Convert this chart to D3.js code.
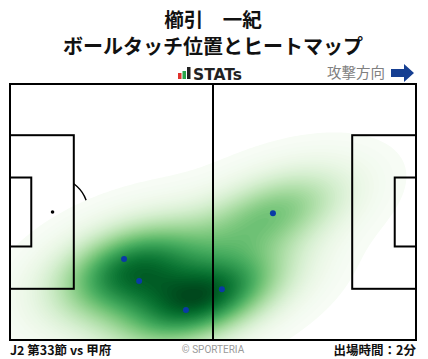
<!DOCTYPE html>
<html>
<head>
<meta charset="utf-8">
<script src="https://cdn.jsdelivr.net/npm/d3@7"></script>
<style>
  body { margin: 0; background: #fff; }
  text { font-family: "Noto Sans CJK JP", "Noto Sans", sans-serif; }
</style>
</head>
<body>
<svg width="428" height="359"></svg>
<script>
var player = "櫛引　一紀",
    subtitle = "ボールタッチ位置とヒートマップ",
    matchLabel = "J2 第33節 vs 甲府",
    minutesLabel = "出場時間：2分";

// ball touches, pitch metres (105 x 68), attacking to the right
var touchX = [29.5, 33.4, 45.5, 54.8, 68.0],
    touchY = [46.5, 52.3, 60.0, 54.5, 34.3];

var svg = d3.select("svg"),
    pitch = {left: 10, top: 84, width: 406, height: 256};

var x = d3.scaleLinear().domain([0, 105]).range([pitch.left, pitch.left + pitch.width]),
    y = d3.scaleLinear().domain([0, 68]).range([pitch.top, pitch.top + pitch.height]);

// titles
svg.append("text").attr("x", 213).attr("y", 27)
    .attr("text-anchor", "middle").style("font-size", "19.5px").style("font-weight", "bold")
    .attr("fill", "#111").text(player);
svg.append("text").attr("x", 213).attr("y", 54)
    .attr("text-anchor", "middle").style("font-size", "20px").style("font-weight", "bold")
    .attr("fill", "#111").text(subtitle);

// STATs logo
var logo = svg.append("g");
logo.append("rect").attr("x", 178).attr("y", 73).attr("width", 3.5).attr("height", 6).attr("fill", "#e0322c");
logo.append("rect").attr("x", 182.5).attr("y", 71).attr("width", 3.5).attr("height", 8).attr("fill", "#2aa44a");
logo.append("rect").attr("x", 187).attr("y", 67).attr("width", 3.5).attr("height", 12).attr("fill", "#222");
logo.append("text").attr("x", 193).attr("y", 79.5)
    .style("font-family", "'DejaVu Sans', sans-serif").style("font-size", "15.5px").style("font-weight", "bold")
    .attr("fill", "#222").text("STATs");

// attack direction
svg.append("text").attr("x", 385).attr("y", 78).attr("text-anchor", "end")
    .style("font-size", "14.5px").attr("fill", "#808080").text("攻撃方向");
svg.append("path")
    .attr("d", "M391,69 L404,69 L404,64 L414,73 L404,82 L404,77 L391,77 Z")
    .attr("fill", "#163f92");

// clip for the heat
svg.append("clipPath").attr("id", "pitchClip")
  .append("rect").attr("x", pitch.left).attr("y", pitch.top)
    .attr("width", pitch.width).attr("height", pitch.height);

var lines = svg.append("g").attr("fill", "none").attr("stroke", "#000").attr("stroke-width", 1.5);

// penalty arcs (under the heat)
var r = x(9.15) - x(0);
var spot = [x(11), y(34)];
var dx = x(16.5) - spot[0], a0 = Math.acos(dx / r);
lines.append("path")
    .attr("d", d3.arc()({innerRadius: r, outerRadius: r, startAngle: Math.PI / 2 - a0, endAngle: Math.PI / 2 + a0}))
    .attr("transform", "translate(" + spot[0] + "," + spot[1] + ")");
lines.append("path")
    .attr("d", d3.arc()({innerRadius: r, outerRadius: r, startAngle: 3 * Math.PI / 2 - a0, endAngle: 3 * Math.PI / 2 + a0}))
    .attr("transform", "translate(" + x(94) + "," + spot[1] + ")");

// gaussian kde (scott factor, full covariance)
var n = touchX.length,
    mx = d3.mean(touchX), my = d3.mean(touchY),
    sxx = d3.sum(touchX, function(v) { return (v - mx) * (v - mx); }) / (n - 1),
    syy = d3.sum(touchY, function(v) { return (v - my) * (v - my); }) / (n - 1),
    sxy = d3.sum(touchX.map(function(v, i) { return (v - mx) * (touchY[i] - my); })) / (n - 1),
    f = Math.pow(n, -1 / 6) * 1.08;
var cxx = sxx * f * f, cyy = syy * f * f, cxy = sxy * f * f,
    det = cxx * cyy - cxy * cxy,
    ixx = cyy / det, iyy = cxx / det, ixy = -cxy / det;

var step = 2,
    nx = Math.ceil(pitch.width / step) + 1,
    ny = Math.ceil(pitch.height / step) + 1,
    grid = new Array(nx * ny);
for (var j = 0; j < ny; j++) {
  for (var i = 0; i < nx; i++) {
    var gx = x.invert(pitch.left + i * step), gy = y.invert(pitch.top + j * step), s = 0;
    for (var k = 0; k < n; k++) {
      var ex = gx - touchX[k], ey = gy - touchY[k];
      s += Math.exp(-0.5 * (ixx * ex * ex + 2 * ixy * ex * ey + iyy * ey * ey));
    }
    grid[j * nx + i] = s;
  }
}
var maxD = d3.max(grid);
var thresholds = d3.range(0, 80).map(function(t) { return maxD * (0.014 + 0.986 * t / 80); });
var color = d3.scaleSequential(d3.interpolateGreens).domain([thresholds[0], maxD]);

var contours = d3.contours().size([nx, ny]).thresholds(thresholds)(grid);
var proj = d3.geoIdentity().scale(step).translate([pitch.left - step / 2, pitch.top - step / 2]);

svg.append("g").attr("clip-path", "url(#pitchClip)")
  .selectAll("path")
  .data(contours)
  .enter().append("path")
    .attr("d", d3.geoPath(proj))
    .attr("fill", function(d) { return color(d.value); });

// pitch lines
var lines2 = svg.append("g").attr("fill", "none").attr("stroke", "#000").attr("stroke-width", 2);
lines2.append("rect").attr("x", x(0)).attr("y", y(0)).attr("width", x(105) - x(0)).attr("height", y(68) - y(0));
lines2.append("line").attr("x1", x(52.5)).attr("x2", x(52.5)).attr("y1", y(0)).attr("y2", y(68));
[[0, 16.5], [105 - 16.5, 105]].forEach(function(b) {
  lines2.append("rect").attr("x", x(b[0])).attr("y", y(13.6)).attr("width", x(b[1]) - x(b[0])).attr("height", y(54.4) - y(13.6));
});
[[0, 5.5], [105 - 5.5, 105]].forEach(function(b) {
  lines2.append("rect").attr("x", x(b[0])).attr("y", y(24.84)).attr("width", x(b[1]) - x(b[0])).attr("height", y(43.16) - y(24.84));
});
svg.append("circle").attr("cx", spot[0]).attr("cy", spot[1]).attr("r", 1.8).attr("fill", "#000");

// touches
svg.selectAll(".touch")
  .data(touchX)
  .enter().append("circle")
    .attr("class", "touch")
    .attr("cx", function(d) { return x(d); })
    .attr("cy", function(d, i) { return y(touchY[i]); })
    .attr("r", 3)
    .attr("fill", "#0a3aa6");

// footer
svg.append("text").attr("x", 10).attr("y", 355)
    .style("font-size", "12.5px").style("font-weight", "bold").attr("fill", "#111").text(matchLabel);
svg.append("text").attr("x", 213).attr("y", 353)
    .attr("text-anchor", "middle").style("font-family", "Roboto, sans-serif").style("font-size", "10px")
    .attr("fill", "#999").text("© SPORTERIA");
svg.append("text").attr("x", 416).attr("y", 355).attr("text-anchor", "end")
    .style("font-size", "12.5px").style("font-weight", "bold").attr("fill", "#111").text(minutesLabel);
</script>
</body>
</html>
